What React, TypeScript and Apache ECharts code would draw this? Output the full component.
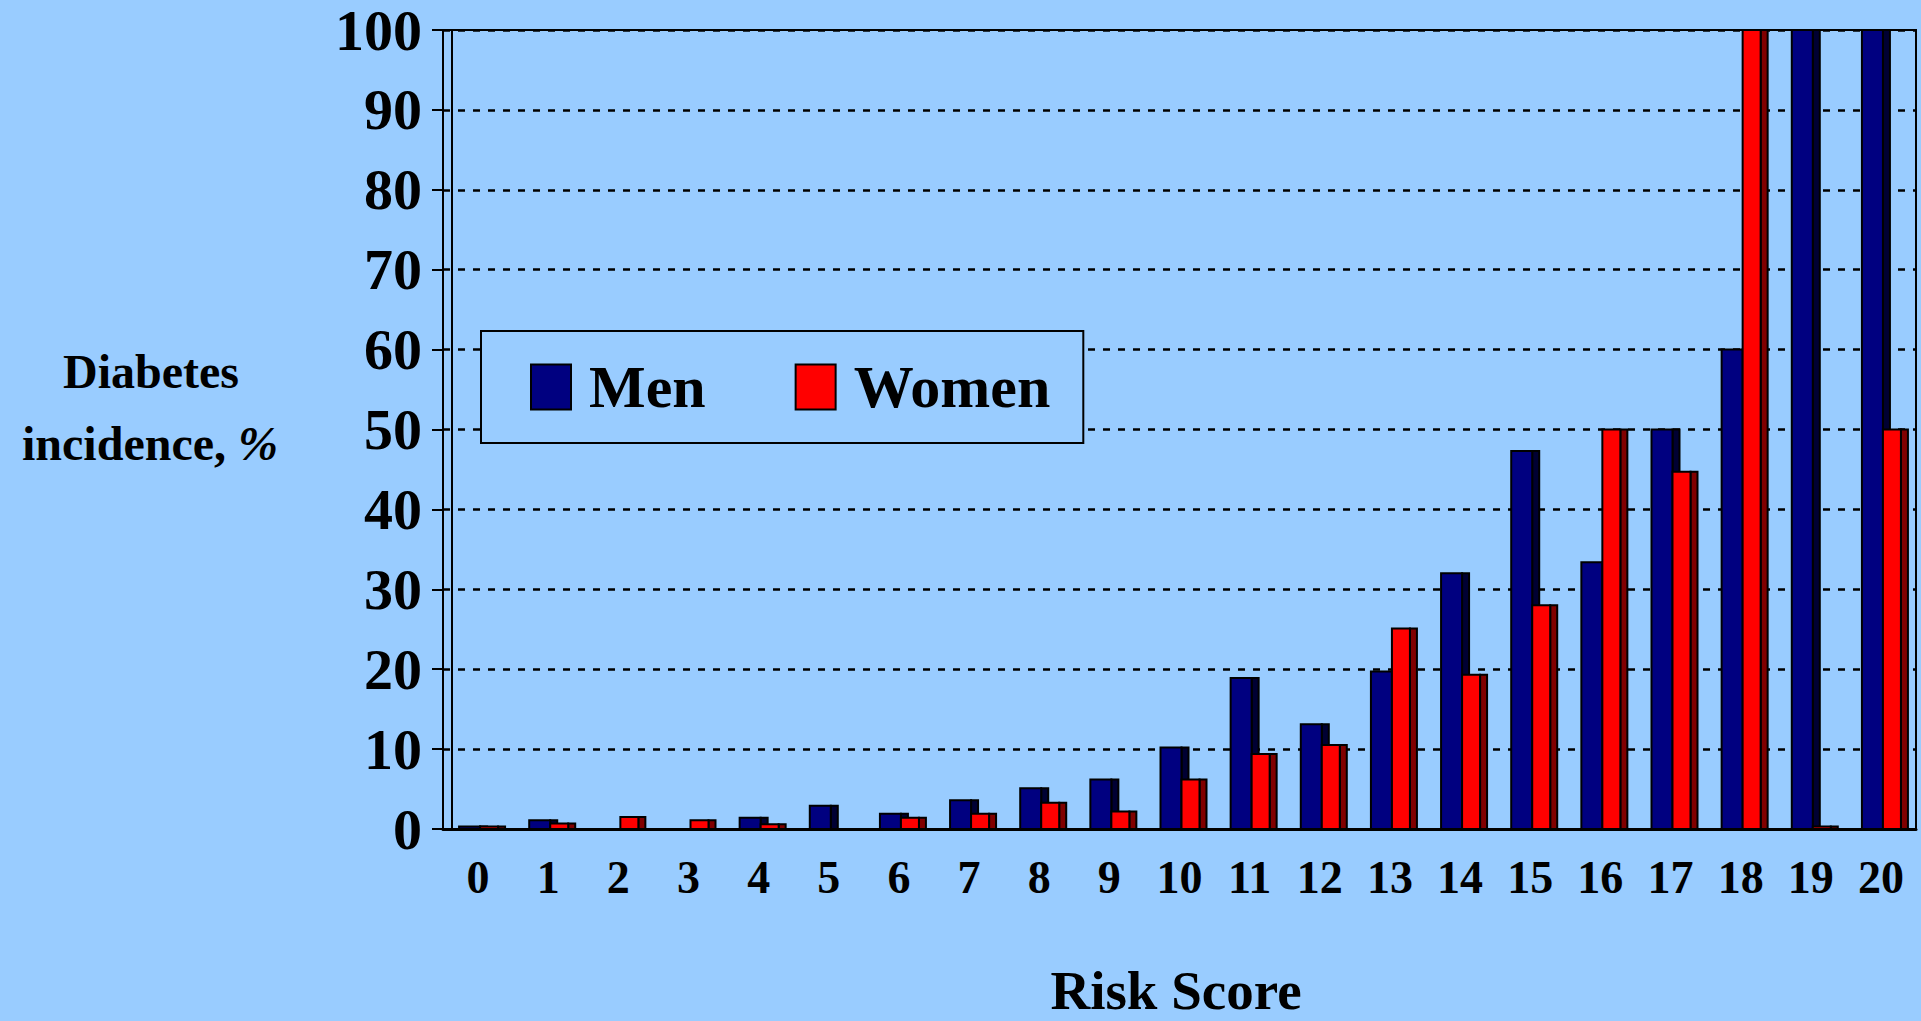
import React, { useEffect, useRef } from "react";
import * as echarts from "echarts";

const categories = ["0", "1", "2", "3", "4", "5", "6", "7", "8", "9", "10", "11", "12", "13", "14", "15", "16", "17", "18", "19", "20"];
const menValues = [0.3, 1.1, 0, 0, 1.4, 2.9, 1.9, 3.6, 5.1, 6.2, 10.2, 18.9, 13.1, 19.7, 32.0, 47.3, 33.4, 50, 60, 100, 100];
const womenValues = [0.3, 0.7, 1.5, 1.1, 0.6, 0, 1.4, 1.9, 3.3, 2.2, 6.2, 9.4, 10.5, 25.1, 19.3, 28.0, 50, 44.7, 100, 0.3, 50];
const seriesNames = ["Men", "Women"];
const yTitleLines = ["Diabetes", "incidence, "];
const xTitle = "Risk Score";

const FONT = '"Liberation Serif", "Times New Roman", serif';

export default function App() {
  const ref = useRef<HTMLDivElement>(null);

  useEffect(() => {
    document.body.style.margin = "0";
    const chart = echarts.init(ref.current as HTMLDivElement, null, { renderer: "svg" });

    const makeSeries = (
      name: string,
      data: number[],
      color: string,
      sideColor: string,
      frontX: number,
      frontW: number,
      sideX: number,
      sideW: number
    ) => ({
      type: "custom",
      name,
      itemStyle: { color },
      encode: { x: 0, y: 1 },
      data: data.map((v, i) => [i, v]),
      renderItem: (_params: any, api: any) => {
        const i = api.value(0);
        const v = api.value(1);
        const top = api.coord([i, v]);
        const base = api.coord([i, 0]);
        const h = base[1] - top[1];
        return {
          type: "group",
          children: [
            {
              type: "rect",
              shape: { x: top[0] + sideX, y: top[1], width: sideW, height: h },
              style: { fill: sideColor, stroke: "#000", lineWidth: 2 },
            },
            {
              type: "rect",
              shape: { x: top[0] + frontX, y: top[1], width: frontW, height: h },
              style: { fill: color, stroke: "#000", lineWidth: 2 },
            },
          ],
        };
      },
    });

    chart.setOption({
      animation: false,
      backgroundColor: "#99CCFF",
      grid: {
        left: 443,
        right: 5,
        top: 30,
        bottom: 192,
        show: true,
        borderColor: "#000",
        borderWidth: 2,
        backgroundColor: "transparent",
      },
      legend: {
        left: 481,
        top: 331,
        orient: "horizontal",
        itemWidth: 40,
        itemHeight: 45,
        itemGap: 89,
        padding: [26, 33, 26, 49],
        borderColor: "#000",
        borderWidth: 2,
        backgroundColor: "#99CCFF",
        textStyle: {
          fontSize: 60,
          fontWeight: "bold",
          fontFamily: FONT,
          color: "#000",
          lineHeight: 50,
          padding: [0, 0, 0, 13],
        },
        data: [
          { name: seriesNames[0], icon: "rect", itemStyle: { color: "#000080", borderColor: "#000", borderWidth: 2 } },
          { name: seriesNames[1], icon: "rect", itemStyle: { color: "#FF0000", borderColor: "#000", borderWidth: 2 } },
        ],
      },
      xAxis: {
        type: "category",
        data: categories,
        boundaryGap: true,
        axisLine: { show: true, lineStyle: { color: "#000", width: 3 } },
        axisTick: { show: false },
        axisLabel: {
          fontSize: 46,
          fontWeight: "bold",
          fontFamily: FONT,
          color: "#000",
          margin: 25,
          lineHeight: 46,
          interval: 0,
        },
        splitLine: { show: false },
      },
      yAxis: {
        type: "value",
        min: 0,
        max: 100,
        interval: 10,
        axisLine: { show: true, lineStyle: { color: "#000", width: 2 } },
        axisTick: { show: true, length: 11, lineStyle: { color: "#000", width: 2 } },
        axisLabel: {
          fontSize: 58,
          fontWeight: "bold",
          fontFamily: FONT,
          color: "#000",
          margin: 21,
          lineHeight: 48,
        },
        splitLine: { show: true, lineStyle: { color: "#000", width: 2.5, type: [7, 8] } },
      },
      series: [
        makeSeries(seriesNames[0], menValues, "#000080", "#000033", -19, 21, 2, 7),
        makeSeries(seriesNames[1], womenValues, "#FF0000", "#800000", 2, 18, 20, 7),
      ],
      graphic: [
        {
          type: "line",
          shape: { x1: 452, y1: 30, x2: 452, y2: 829 },
          style: { stroke: "#000", lineWidth: 2 },
          silent: true,
        },
        {
          type: "text",
          x: 151,
          y: 371,
          style: {
            text: yTitleLines[0],
            fontSize: 48,
            fontWeight: "bold",
            fontFamily: FONT,
            fill: "#000",
            align: "center",
            verticalAlign: "middle",
          },
        },
        {
          type: "text",
          x: 150,
          y: 443,
          style: {
            text: "{a|" + yTitleLines[1] + "}{b|%}",
            align: "center",
            verticalAlign: "middle",
            rich: {
              a: { fontSize: 48, fontWeight: "bold", fontFamily: FONT, fill: "#000" },
              b: { fontSize: 48, fontWeight: "bold", fontStyle: "italic", fontFamily: FONT, fill: "#000" },
            },
          },
        },
        {
          type: "text",
          x: 1176,
          y: 990,
          style: {
            text: xTitle,
            fontSize: 55,
            lineHeight: 55,
            fontWeight: "bold",
            fontFamily: FONT,
            fill: "#000",
            align: "center",
            verticalAlign: "middle",
          },
        },
      ],
    });

    return () => chart.dispose();
  }, []);

  return (
    <div
      ref={ref}
      style={{ position: "fixed", left: 0, top: 0, width: 1921, height: 1021 }}
    />
  );
}
